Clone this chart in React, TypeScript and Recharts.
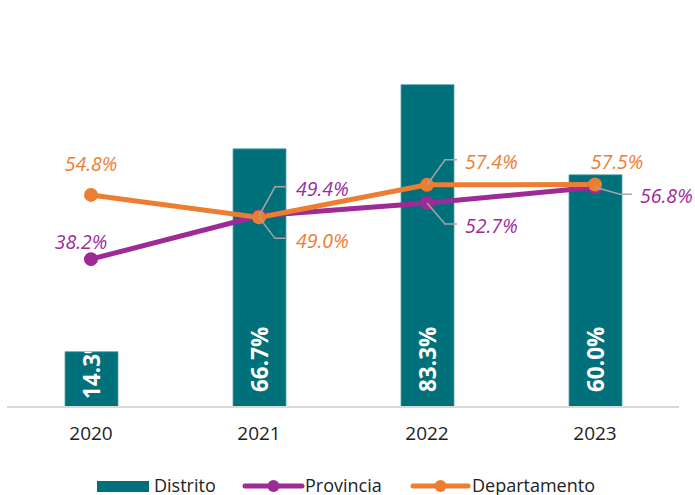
import React from "react";
import { ComposedChart, Bar, Line, XAxis, YAxis, LabelList } from "recharts";

const years = ["2020", "2021", "2022", "2023"];
const distrito = [14.3, 66.7, 83.3, 60.0];
const provincia = [38.2, 49.4, 52.7, 56.8];
const departamento = [54.8, 49.0, 57.4, 57.5];

const data = years.map((y, i) => ({
  year: y,
  distrito: distrito[i],
  provincia: provincia[i],
  departamento: departamento[i],
}));

const TEAL = "#00707a";
const PURPLE = "#9e2a98";
const ORANGE = "#ed7d31";
const LEADER = "#a6a6a6";
const FONT = "'Open Sans', sans-serif";

type Place = { dx: number; dy: number; anchor: "start" | "middle"; leader?: [number, number, number, number] };

const provPlace: Place[] = [
  { dx: -10, dy: -18, anchor: "middle" },
  { dx: 37, dy: -27, anchor: "start", leader: [16, -29, 28, -29] },
  { dx: 38, dy: 22, anchor: "start", leader: [18, 21, 30, 21] },
  { dx: 45, dy: 8, anchor: "start", leader: [25, 7, 37, 7] },
];
const depPlace: Place[] = [
  { dx: 0, dy: -31, anchor: "middle" },
  { dx: 37, dy: 23, anchor: "start", leader: [16, 21, 28, 21] },
  { dx: 38, dy: -23, anchor: "start", leader: [18, -25, 30, -25] },
  { dx: 22, dy: -23, anchor: "middle" },
];

const makeLineLabel = (places: Place[], color: string) => (props: any) => {
  const { x, y, value, index } = props;
  const p = places[index];
  if (!p || x == null || y == null) return null;
  return (
    <g>
      {p.leader && (
        <polyline
          points={`${x},${y} ${x + p.leader[0]},${y + p.leader[1]} ${x + p.leader[2]},${y + p.leader[3]}`}
          fill="none"
          stroke={LEADER}
          strokeWidth={1.5}
        />
      )}
      <text
        x={x + p.dx}
        y={y + p.dy}
        textAnchor={p.anchor}
        dominantBaseline="central"
        fill={color}
        fontFamily={FONT}
        fontStyle="italic"
        fontSize={19.5}
      >
        {Number(value).toFixed(1)}%
      </text>
    </g>
  );
};

const BarLabel = (props: any) => {
  const { x, y, width, height, value, index } = props;
  if (x == null) return null;
  const cx = x + width / 2;
  const by = y + height - (height > 80 ? 15 : 8);
  const id = `barclip-${index}`;
  return (
    <g>
      <defs>
        <clipPath id={id}>
          <rect x={x} y={y} width={width} height={height} />
        </clipPath>
      </defs>
      <g clipPath={`url(#${id})`}>
        <text
          x={cx}
          y={by}
          transform={`rotate(-90 ${cx} ${by})`}
          textAnchor="start"
          dominantBaseline="central"
          fill="#ffffff"
          fontFamily={FONT}
          fontWeight="bold"
          fontSize={22.5}
        >
          {Number(value).toFixed(1)}%
        </text>
      </g>
    </g>
  );
};

const legendItems = [
  { name: "Distrito", kind: "bar", color: TEAL, sx: 97, sw: 52, tx: 154 },
  { name: "Provincia", kind: "line", color: PURPLE, sx: 245, sw: 57, tx: 305 },
  { name: "Departamento", kind: "line", color: ORANGE, sx: 413, sw: 55, tx: 472 },
];

export default function App() {
  return (
    <div style={{ position: "absolute", left: 0, top: 0, width: 695, height: 495, background: "#fff", overflow: "hidden" }}>
      <ComposedChart
        width={695}
        height={495}
        data={data}
        margin={{ top: 20, right: 16, left: 7, bottom: 0 }}
      >
        <XAxis
          dataKey="year"
          height={88}
          axisLine={{ stroke: "#d9d9d9", strokeWidth: 2 }}
          tickLine={false}
          tickMargin={14}
          tick={{ fill: "#222", fontSize: 19, fontFamily: FONT }}
        />
        <YAxis hide domain={[0, 100]} />
        <Bar dataKey="distrito" barSize={53} fill={TEAL} stroke="#5c9fa6" strokeWidth={0.8} isAnimationActive={false}>
          <LabelList dataKey="distrito" content={BarLabel} />
        </Bar>
        <Line
          dataKey="provincia"
          stroke={PURPLE}
          strokeWidth={5}
          dot={{ r: 7, fill: PURPLE, stroke: PURPLE, strokeWidth: 0 }}
          activeDot={false}
          isAnimationActive={false}
        >
          <LabelList dataKey="provincia" content={makeLineLabel(provPlace, PURPLE)} />
        </Line>
        <Line
          dataKey="departamento"
          stroke={ORANGE}
          strokeWidth={5}
          dot={{ r: 7, fill: ORANGE, stroke: ORANGE, strokeWidth: 0 }}
          activeDot={false}
          isAnimationActive={false}
        >
          <LabelList dataKey="departamento" content={makeLineLabel(depPlace, ORANGE)} />
        </Line>
      </ComposedChart>
      <svg width={695} height={35} style={{ position: "absolute", left: 0, top: 465, overflow: "visible" }}>
        {legendItems.map((it) => (
          <g key={it.name}>
            {it.kind === "bar" ? (
              <rect x={it.sx} y={16} width={it.sw} height={11} fill={it.color} />
            ) : (
              <g>
                <line x1={it.sx} y1={21} x2={it.sx + it.sw} y2={21} stroke={it.color} strokeWidth={5} strokeLinecap="round" />
                <circle cx={it.sx + it.sw / 2} cy={21} r={6} fill={it.color} />
              </g>
            )}
            <text x={it.tx} y={26.5} fontFamily={FONT} fontSize={18} fill="#222">
              {it.name}
            </text>
          </g>
        ))}
      </svg>
    </div>
  );
}
